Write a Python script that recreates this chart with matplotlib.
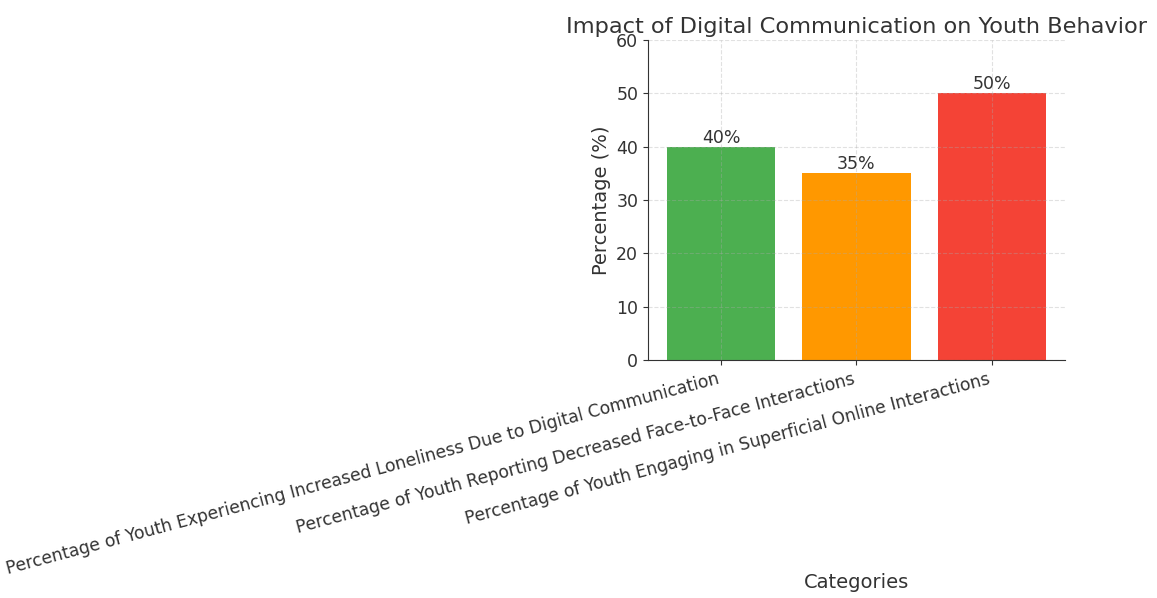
import matplotlib.pyplot as plt

categories = [
    "Percentage of Youth Experiencing Increased Loneliness Due to Digital Communication",
    "Percentage of Youth Reporting Decreased Face-to-Face Interactions",
    "Percentage of Youth Engaging in Superficial Online Interactions",
]
values = [40, 35, 50]
colors = ["#4CAF50", "#FF9800", "#F44336"]

fig = plt.figure(figsize=(11.57, 5.98), dpi=100)
ax = fig.add_axes([0.560, 0.398, 0.3605, 0.535])

bars = ax.bar(categories, values, color=colors, width=0.8)
for bar, v in zip(bars, values):
    ax.text(bar.get_x() + bar.get_width() / 2, v, f"{v}%",
            ha="center", va="bottom", fontsize=12.5, color="#333333")

ax.set_ylim(0, 60)
ax.set_title("Impact of Digital Communication on Youth Behavior", fontsize=16.2, color="#333333", pad=5)
ax.set_ylabel("Percentage (%)", fontsize=14, color="#333333")
ax.set_xlabel("Categories", fontsize=14, color="#333333")
ax.xaxis.set_label_coords(0.5, -0.665)
ax.tick_params(axis="y", labelsize=12.5, colors="#333333")
ax.tick_params(axis="x", labelsize=12.3, colors="#333333")
plt.setp(ax.get_xticklabels(), rotation=15, ha="right")

ax.grid(True, linestyle="--", color="#aaaaaa", alpha=0.35, linewidth=0.8)
for s in ["top", "right"]:
    ax.spines[s].set_visible(False)
for s in ["left", "bottom"]:
    ax.spines[s].set_color("#333333")

fig.savefig("out.png")
